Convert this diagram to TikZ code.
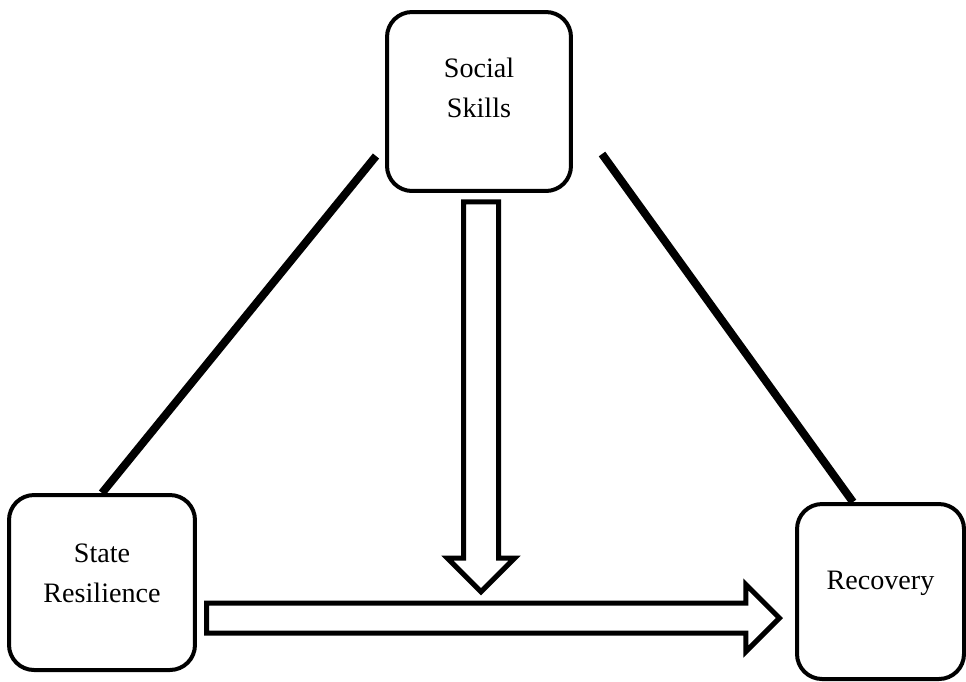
\documentclass[tikz,border=0pt]{standalone}
\usepackage{fontspec}
\setmainfont{Liberation Serif}
\usetikzlibrary{calc,shapes.arrows}

\begin{document}
\begin{tikzpicture}[x=0.02cm,y=-0.02cm,
  vbox/.style={draw,line width=0.08cm,rounded corners=0.5cm,align=center,
    font=\fontsize{16}{23}\selectfont},
  link/.style={line width=0.16cm},
  fatarrow/.style={draw,single arrow,line width=0.1cm,inner xsep=0pt,
    single arrow head indent=0pt}
]
  \useasboundingbox (0,0) rectangle (966,681);
  % variables
  \node[vbox,minimum width=3.68cm,minimum height=3.58cm,text depth=0.54cm] (skills) at (479,101.5) {Social\\Skills};
  \node[vbox,minimum width=3.72cm,minimum height=3.5cm,text depth=0.38cm] (resil) at (102,582.5) {State\\Resilience};
  \node[vbox,minimum width=3.34cm,minimum height=3.5cm,text depth=0.45cm] (recov) at (880.5,591.5) {Recovery};

  % hollow arrows
  \node[fatarrow,minimum height=11.46cm,inner ysep=0.25cm,single arrow head extend=0.37cm] (direct) at (485.5,618) {};
  \node[fatarrow,rotate=-90,minimum height=7.8cm,inner ysep=0.3cm,single arrow head extend=0.32cm] (moderate) at (481,388) {};

  % links
  \coordinate (skills-l) at (376,156);
  \coordinate (skills-r) at (602,154);
  \draw[link] (resil.north) -- (skills-l);
  \draw[link] (skills-r) -- ($(recov.north)+(-27.5,0)$);
\end{tikzpicture}
\end{document}
